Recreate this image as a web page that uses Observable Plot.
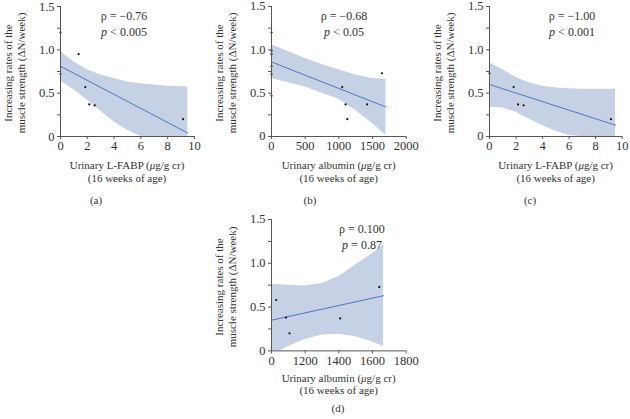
<!DOCTYPE html>
<html><head><meta charset="utf-8">
<script src="https://cdn.jsdelivr.net/npm/d3@7"></script>
<script src="https://cdn.jsdelivr.net/npm/@observablehq/plot@0.6"></script>
<style>
body{margin:0;background:#fff;}
#fig{position:relative;width:630px;height:419px;overflow:hidden;font-family:"Liberation Serif",serif;color:#333;background:#fff;}
.t{position:absolute;white-space:nowrap;font-size:11px;line-height:13px;text-align:center;transform:translate(-50%,-50%);}
.s{position:absolute;white-space:nowrap;font-size:12px;line-height:13px;text-align:center;transform:translate(-50%,-50%);}
.yl{position:absolute;white-space:nowrap;font-size:11px;line-height:13px;text-align:center;transform:translate(-50%,-50%) rotate(-90deg);}
</style></head><body><div id="fig"></div>
<script>
// ---------- data ----------
const yTicks = [0, 0.5, 1, 1.5];
const yTickLabels = ["0", "0.5", "1.0", "1.5"];
const yMinorTicks = [0.25, 0.75, 1.25];

// (a) Urinary L-FABP vs increasing rate
const aTicks = [0, 2, 4, 6, 8, 10];
const aTickLabels = ["0", "2", "4", "6", "8", "10"];
const aPointX = [0, 0, 1.35, 1.85, 2.15, 2.55, 9.15];
const aPointY = [1.2, 0.72, 0.95, 0.57, 0.37, 0.36, 0.2];
const aLineX = [0, 9.5];
const aLineY = [0.81, 0.04];
const aBandX = [0, 1, 2, 3, 4, 5, 6, 7, 8, 9, 9.5];
const aBandHi = [0.98, 0.86, 0.77, 0.71, 0.67, 0.63, 0.61, 0.595, 0.58, 0.575, 0.57];
const aBandLo = [0.64, 0.54, 0.42, 0.29, 0.17, 0.07, 0, 0, 0, 0, 0];

// (b) Urinary albumin
const bTicks = [0, 500, 1000, 1500, 2000];
const bTickLabels = ["0", "500", "1000", "1500", "2000"];
const bPointX = [0, 0, 0, 0, 0, 0, 1050, 1100, 1125, 1420, 1640];
const bPointY = [1.2, 0.99, 0.95, 0.81, 0.72, 0.47, 0.57, 0.37, 0.2, 0.37, 0.73];
const bLineX = [0, 1700];
const bLineY = [0.86, 0.34];
const bBandX = [0, 250, 500, 750, 1000, 1250, 1500, 1700];
const bBandHi = [1.06, 0.98, 0.9, 0.83, 0.77, 0.71, 0.67, 0.66];
const bBandLo = [0.67, 0.62, 0.57, 0.5, 0.43, 0.3, 0.15, 0.01];

// (c) Urinary L-FABP (subset)
const cTicks = [0, 2, 4, 6, 8, 10];
const cTickLabels = ["0", "2", "4", "6", "8", "10"];
const cPointX = [0, 1.82, 2.15, 2.57, 9.15];
const cPointY = [0.73, 0.57, 0.37, 0.36, 0.2];
const cLineX = [0, 9.5];
const cLineY = [0.6, 0.13];
const cBandX = [0, 1, 2, 3, 4, 5, 6, 7, 8, 9, 9.5];
const cBandHi = [0.85, 0.77, 0.68, 0.62, 0.58, 0.56, 0.55, 0.545, 0.545, 0.545, 0.545];
const cBandLo = [0.34, 0.33, 0.28, 0.2, 0.125, 0.06, 0.01, 0, 0, 0, 0];

// (d) Urinary albumin (subset, broken axis)
const dTicks = [1000, 1200, 1400, 1600, 1800];
const dTickLabels = ["0", "1200", "1400", "1600", "1800"];
const dPointX = [1028, 1086, 1107, 1408, 1640];
const dPointY = [0.58, 0.38, 0.2, 0.37, 0.73];
const dLineX = [1000, 1666];
const dLineY = [0.35, 0.63];
const dBandX = [1000, 1050, 1100, 1200, 1300, 1400, 1500, 1600, 1666];
const dBandHi = [0.76, 0.755, 0.75, 0.74, 0.77, 0.85, 0.98, 1.11, 1.21];
const dBandLo = [0, 0, 0.05, 0.13, 0.18, 0.19, 0.16, 0.1, 0.05];

const stats = {
  a: ["ρ = −0.76", "<", "0.005"],
  b: ["ρ = −0.68", "<", "0.05"],
  c: ["ρ = −1.00", "<", "0.001"],
  d: ["ρ = 0.100", "=", "0.87"]
};

// ---------- drawing ----------
const fig = document.getElementById("fig");
const zip = (xs, ys) => xs.map((x, i) => ({x, y: ys[i]}));

function panel(p) {
  const mL = 42, mR = 8, mT = 6, mB = 20;
  const W = (p.fx1 - p.fx0) + mL + mR, H = (p.fy1 - p.fy0) + mT + mB;
  const band = p.bandX.map((x, i) => ({x, lo: p.bandLo[i], hi: p.bandHi[i]}));
  const fmt = (ticks, labels) => d => labels[ticks.indexOf(d)] ?? "";
  const chart = Plot.plot({
    width: W, height: H,
    marginLeft: mL, marginRight: mR, marginTop: mT, marginBottom: mB,
    x: {domain: p.xDomain, label: null},
    y: {domain: [0, 1.5], label: null},
    style: {fontFamily: "'Liberation Serif', serif", fontSize: "12px", color: "#333", background: "transparent", overflow: "visible"},
    marks: [
      Plot.areaY(band, {x: "x", y1: "lo", y2: "hi", fill: "#c6d1e5", fillOpacity: 1}),
      Plot.line(zip(p.lineX, p.lineY), {x: "x", y: "y", stroke: "#4a78bf", strokeWidth: 1}),
      Plot.dot(zip(p.pointX, p.pointY), {x: "x", y: "y", r: 1.1, fill: "#111", stroke: "none"}),
      Plot.ruleX([p.xDomain[0]], {stroke: "#555", strokeWidth: 1}),
      Plot.ruleY([0], {stroke: "#555", strokeWidth: 1}),
      Plot.axisY({ticks: yTicks, tickFormat: fmt(yTicks, yTickLabels), tickSize: 3, tickPadding: 3, label: null, stroke: "#555", fontSize: 12.5}),
      Plot.axisY({ticks: yMinorTicks, tickFormat: () => "", tickSize: 3, label: null, stroke: "#555"}),
      Plot.axisX({ticks: p.xTicks, tickFormat: fmt(p.xTicks, p.xTickLabels), tickSize: 3, tickPadding: 2, label: null, stroke: "#555", fontSize: 12.5})
    ]
  });
  chart.style.position = "absolute";
  chart.style.left = (p.fx0 - mL) + "px";
  chart.style.top = (p.fy0 - mT) + "px";
  fig.appendChild(chart);

  const cx = (p.fx0 + p.fx1) / 2;
  const add = (cls, x, y, html) => {
    const d = document.createElement("div");
    d.className = cls; d.style.left = x + "px"; d.style.top = y + "px"; d.innerHTML = html;
    fig.appendChild(d);
  };
  add("yl", p.fx0 - 45.5, (p.fy0 + p.fy1) / 2 + 2, "Increasing rates of the<br>muscle strength (ΔN/week)");
  add("t", cx, p.fy1 + p.xlab1, p.xTitle);
  add("t", cx, p.fy1 + p.xlab1 + 12.5, "(16 weeks of age)");
  add("t", p.capX, p.fy1 + p.capDy, p.cap);
  add("s", p.statX, p.fy0 + 10, p.stat[0]);
  add("s", p.statX, p.fy0 + 26, "<i>p</i> " + p.stat[1] + " " + p.stat[2]);
}

panel({fx0: 60, fx1: 194, fy0: 6, fy1: 136, xDomain: [0, 10], xTicks: aTicks, xTickLabels: aTickLabels,
  pointX: aPointX, pointY: aPointY, lineX: aLineX, lineY: aLineY, bandX: aBandX, bandLo: aBandLo, bandHi: aBandHi,
  xTitle: "Urinary L-FABP (<i>μ</i>g/g cr)", xlab1: 29, cap: "(a)", capX: 96, capDy: 64, stat: stats.a, statX: 124});
panel({fx0: 271.3, fx1: 406, fy0: 6, fy1: 136, xDomain: [0, 2000], xTicks: bTicks, xTickLabels: bTickLabels,
  pointX: bPointX, pointY: bPointY, lineX: bLineX, lineY: bLineY, bandX: bBandX, bandLo: bBandLo, bandHi: bBandHi,
  xTitle: "Urinary albumin (<i>μ</i>g/g cr)", xlab1: 29, cap: "(b)", capX: 310, capDy: 64, stat: stats.b, statX: 344});
panel({fx0: 489.3, fx1: 622, fy0: 6, fy1: 136, xDomain: [0, 10], xTicks: cTicks, xTickLabels: cTickLabels,
  pointX: cPointX, pointY: cPointY, lineX: cLineX, lineY: cLineY, bandX: cBandX, bandLo: cBandLo, bandHi: cBandHi,
  xTitle: "Urinary L-FABP (<i>μ</i>g/g cr)", xlab1: 29, cap: "(c)", capX: 530, capDy: 64, stat: stats.c, statX: 572});
panel({fx0: 271.3, fx1: 406, fy0: 219.3, fy1: 350.7, xDomain: [1000, 1800], xTicks: dTicks, xTickLabels: dTickLabels,
  pointX: dPointX, pointY: dPointY, lineX: dLineX, lineY: dLineY, bandX: dBandX, bandLo: dBandLo, bandHi: dBandHi,
  xTitle: "Urinary albumin (<i>μ</i>g/g cr)", xlab1: 27, cap: "(d)", capX: 338, capDy: 57, stat: stats.d, statX: 362});
</script></body></html>
